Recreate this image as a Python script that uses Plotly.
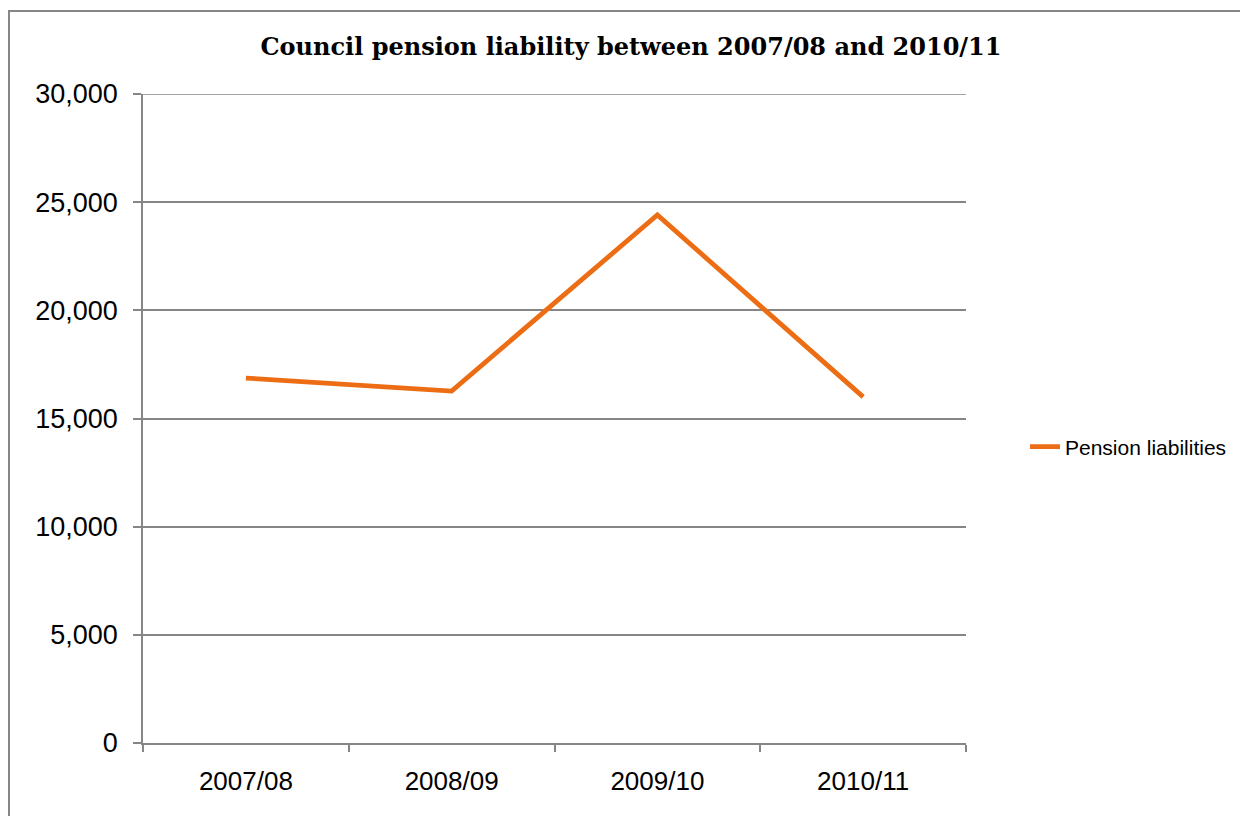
import plotly.graph_objects as go

categories = ["2007/08", "2008/09", "2009/10", "2010/11"]
pension_liabilities = [16870, 16270, 24410, 16000]
y_ticks = [0, 5000, 10000, 15000, 20000, 25000, 30000]
y_tick_labels = ["0", "5,000", "10,000", "15,000", "20,000", "25,000", "30,000"]

# page body has an 8px margin, so figure coords = screen coords - 8
OFF = 8
W, H = 1248 - OFF, 816 - OFF
L, R, T, B = 143 - OFF, 282, 94 - OFF, 73
pw, ph = W - L - R, H - T - B

fig = go.Figure()
fig.add_trace(go.Scatter(
    x=categories, y=pension_liabilities, mode="lines",
    name="Pension liabilities",
    line=dict(color="#EC6D14", width=4.8),
))

fig.update_layout(
    width=W, height=H,
    margin=dict(l=L, r=R, t=T, b=B),
    paper_bgcolor="white", plot_bgcolor="white",
    font=dict(family="Liberation Sans, Arial, sans-serif", color="black"),
    title=dict(
        text="<b>Council pension liability between 2007/08 and 2010/11</b>",
        font=dict(family="DejaVu Serif, Georgia, serif", size=24, color="black"),
        x=(631 - OFF) / W, xanchor="center", y=1 - (47 - OFF) / H, yanchor="middle",
    ),
    xaxis=dict(
        type="category", range=[-0.5, 3.5],
        showgrid=False, showline=True, linecolor="#868686", linewidth=1.5,
        ticks="outside", tickson="boundaries", ticklen=7, tickcolor="#868686", tickwidth=1.5,
        tickfont=dict(size=26), zeroline=False, ticklabelstandoff=14,
    ),
    yaxis=dict(
        range=[0, 30000], tickvals=y_ticks, ticktext=y_tick_labels,
        showgrid=True, gridcolor="#868686", gridwidth=1.5,
        showline=True, linecolor="#868686", linewidth=1.5,
        ticks="outside", ticklen=8, tickcolor="#868686", tickwidth=1.5,
        tickfont=dict(size=27), zeroline=False, ticklabelstandoff=10,
    ),
    legend=dict(
        x=(1025 - OFF - L) / pw, y=(H - B - (447 - OFF)) / ph, xanchor="left", yanchor="middle",
        font=dict(size=21), bgcolor="rgba(0,0,0,0)",
    ),
    showlegend=True,
    shapes=[
        dict(
            type="line", xref="paper", yref="y", x0=0, x1=1, y0=30000, y1=30000,
            line=dict(color="#868686", width=1.5), layer="below",
        ),
        dict(
            type="rect", xref="paper", yref="paper",
            x0=(1 - L) / pw, x1=(W + 20 - L) / pw,
            y0=-(B + 20) / ph, y1=(H - B - 3) / ph,
            line=dict(color="#868686", width=2), fillcolor="rgba(0,0,0,0)", layer="below",
        ),
    ],
)

fig.write_html("out.html")
